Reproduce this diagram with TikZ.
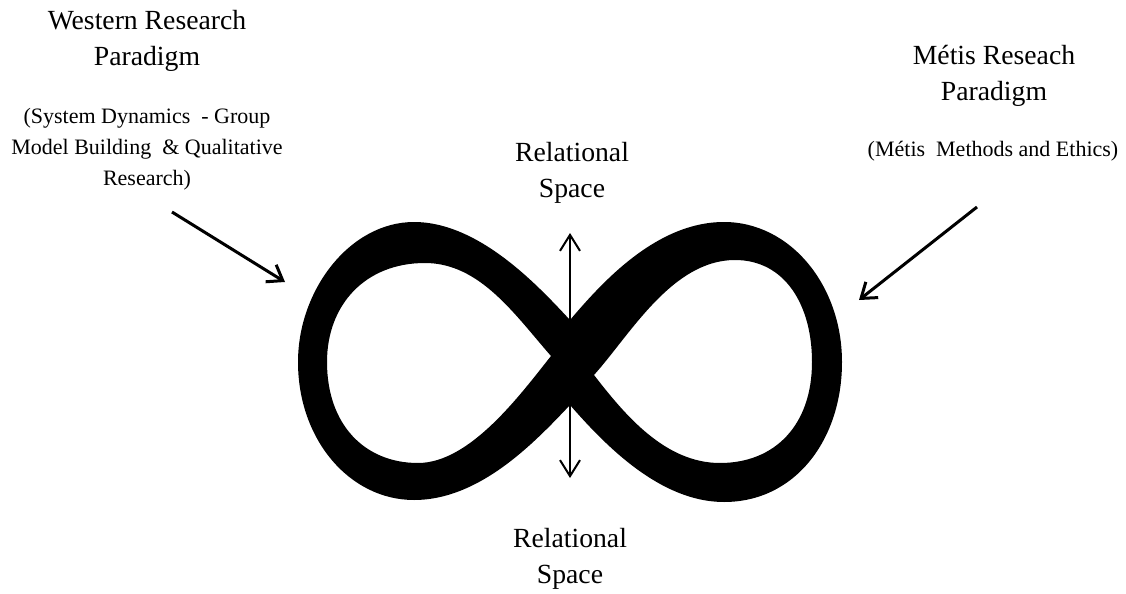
\documentclass[tikz,border=0pt]{standalone}
\usepackage{fontspec}
\setmainfont{Liberation Serif}
\usetikzlibrary{arrows.meta}

\begin{document}
\begin{tikzpicture}[
    x=0.5pt, y=-0.5pt, % 1 unit = 1 px of the layout, y runs down
    title/.style  ={align=center, anchor=base, inner sep=0pt,
                    font=\fontsize{13.85}{17.75}\selectfont},
    note/.style   ={align=center, anchor=base, inner sep=0pt,
                    font=\fontsize{11}{15.5}\selectfont},
    pointer/.style={-{Straight Barb[length=7pt,width=10pt]}, line width=1.5pt},
    twoway/.style ={{Straight Barb[length=8pt,width=10pt]}-{Straight Barb[length=8pt,width=10pt]},
                    line width=1pt},
    band/.style   ={fill=black, even odd rule},
]
\useasboundingbox (0,0) rectangle (1126,594);

% ============================================================
% INFINITY LOOP
% ============================================================
\fill[band]
  % outer outline
  (570,320) .. controls (540,288) and (480,222) .. (414,222)
            .. controls (350,222) and (298,290) .. (298,362)
            .. controls (298,440) and (350,500) .. (414,500)
            .. controls (480,500) and (535,442) .. (570,405)
            .. controls (605,445) and (660,502) .. (724,502)
            .. controls (795,502) and (842,440) .. (842,362)
            .. controls (842,285) and (790,222) .. (724,222)
            .. controls (655,222) and (600,285) .. (570,320) -- cycle
  % left hole
  (551,356) .. controls (515,315) and (480,263) .. (425,263)
            .. controls (365,263) and (327,305) .. (327,362)
            .. controls (327,425) and (365,463) .. (418,463)
            .. controls (470,463) and (520,395) .. (551,356) -- cycle
  % right hole
  (594,375) .. controls (630,335) and (672,260) .. (735,260)
            .. controls (785,260) and (812,305) .. (812,362)
            .. controls (812,425) and (775,463) .. (720,463)
            .. controls (665,463) and (625,415) .. (594,375) -- cycle;

% ============================================================
% LABELS (anchored at the baseline of the last line)
% ============================================================
\node[title] (western)   at (147,65)  {Western Research\\Paradigm};
\node[note]  (westnote)  at (147,185) {(System Dynamics\ \ - Group\\Model Building\ \ \& Qualitative\\Research)};

\node[title] (metis)     at (994,100) {Métis Reseach\\Paradigm};
\node[note]  (metisnote) at (993,156) {(Métis\ \ Methods and Ethics)};

\node[title] (topspace)  at (572,197) {Relational\\Space};
\node[title] (botspace)  at (570,583) {Relational\\Space};

% ============================================================
% ARROWS
% ============================================================
\coordinate (wfrom) at (172,212);
\coordinate (wto)   at (285,282);
\coordinate (mfrom) at (977,207);
\coordinate (mto)   at (859,300);
\coordinate (rtop)  at (570,233);
\coordinate (rbot)  at (570,478);

\draw[pointer] (wfrom) -- (wto);
\draw[pointer] (mfrom) -- (mto);
\draw[twoway]  (rbot)  -- (rtop);

\end{tikzpicture}
\end{document}
